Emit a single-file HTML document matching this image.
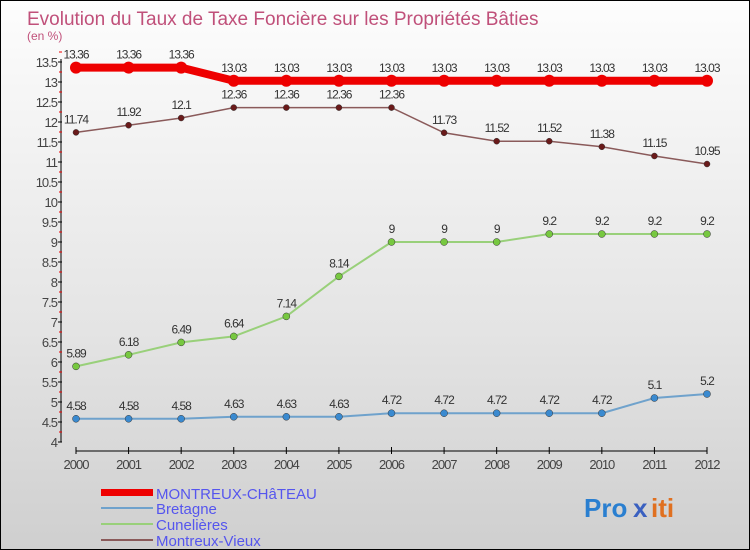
<!DOCTYPE html>
<html><head><meta charset="utf-8"><style>
body{margin:0}
#c{width:750px;height:550px;position:relative;background:linear-gradient(#fdfdfd,#e4e4e4 60%,#cfcfcf);font-family:"Liberation Sans",sans-serif;box-sizing:border-box;border:1px solid #000;overflow:hidden}
</style></head><body>
<div id="c">
<svg width="750" height="550" id="s" style="position:absolute;left:0;top:0">
<text x="26" y="24" font-size="19" fill="#c0507a">Evolution du Taux de Taxe Foncière sur les Propriétés Bâties</text>
<text x="26" y="39" font-size="12" fill="#c0507a">(en %)</text>
<g id="axes"></g><g id="series"></g>
<g font-size="15" fill="#5555ee">
<rect x="100" y="488" width="52" height="7" fill="#e00"/>
<text x="155" y="498">MONTREUX-CHâTEAU</text>
<line x1="100" x2="152" y1="507" y2="507" stroke="#6fa2cc" stroke-width="2"/>
<text x="155" y="513">Bretagne</text>
<line x1="100" x2="152" y1="523" y2="523" stroke="#99d07a" stroke-width="2"/>
<text x="155" y="529">Cunelières</text>
<line x1="100" x2="152" y1="539" y2="539" stroke="#8a5a5a" stroke-width="2"/>
<text x="155" y="545">Montreux-Vieux</text>
</g>
<g font-size="26" font-weight="bold">
<text x="583" y="516" fill="#2a7fd0">Pro</text><text x="632" y="516" fill="#3a60c0">x</text><text x="650" y="516" fill="#e07020">iti</text>
</g>
</svg>
</div>
<script>
const years=[2000,2001,2002,2003,2004,2005,2006,2007,2008,2009,2010,2011,2012];
const yTicks=[4,4.5,5,5.5,6,6.5,7,7.5,8,8.5,9,9.5,10,10.5,11,11.5,12,12.5,13,13.5];
const chateau=[13.36,13.36,13.36,13.03,13.03,13.03,13.03,13.03,13.03,13.03,13.03,13.03,13.03];
const bretagne=[4.58,4.58,4.58,4.63,4.63,4.63,4.72,4.72,4.72,4.72,4.72,5.1,5.2];
const cunelieres=[5.89,6.18,6.49,6.64,7.14,8.14,9,9,9,9.2,9.2,9.2,9.2];
const vieux=[11.74,11.92,12.1,12.36,12.36,12.36,12.36,11.73,11.52,11.52,11.38,11.15,10.95];
const NS="http://www.w3.org/2000/svg";
const x=i=>75+i*(706-75)/12;
const y=v=>441-(v-4)*40;
function mk(t,a,p){const e=document.createElementNS(NS,t);for(const k in a)e.setAttribute(k,a[k]);p.appendChild(e);return e;}
const ax=document.getElementById('axes'),se=document.getElementById('series');
const ya=mk('line',{x1:60,x2:60,y1:y(13.5)-3,y2:y(4),stroke:'#000'},ax);


yTicks.forEach(v=>{
 mk('line',{x1:57,x2:61,y1:y(v),y2:y(v),stroke:'#000'},ax);
 mk('line',{x1:58,x2:61,y1:y(v)-10,y2:y(v)-10,stroke:'#e00'},ax);
 const t=mk('text',{x:56,y:y(v)+5,'text-anchor':'end','font-size':13,fill:'#444','letter-spacing':'-1'},ax);t.textContent=v;
 
 
});
const xa=mk('line',{x1:x(0),x2:x(12),y1:450,y2:450,stroke:'#000'},ax);


years.forEach((yr,i)=>{
 mk('line',{x1:x(i),x2:x(i),y1:446,y2:453,stroke:'#000'},ax);
 const t=mk('text',{x:x(i),y:468,'text-anchor':'middle','font-size':13,fill:'#444','letter-spacing':'-1'},ax);t.textContent=yr;
 
 
});
function series(d,col,w,r,dot,name){
 const g=mk('g',{},se);
 
 
 const p=mk('polyline',{points:d.map((v,i)=>x(i)+','+y(v)).join(' '),fill:'none',stroke:col,'stroke-width':w},g);
 
 
 d.forEach((v,i)=>{
  const c=mk('circle',{cx:x(i),cy:y(v),r:r,fill:dot,stroke:'#333','stroke-width':w>5?0:0.5},g);
  
  
  const t=mk('text',{x:x(i),y:y(v)-9,'text-anchor':'middle','font-size':12,fill:'#333','letter-spacing':'-1'},g);
  t.textContent=String(v).replace(/^(\d+\.\d)0$/,'$1');
  
  
 });
}
series(bretagne,'#6fa2cc',2,3.5,'#3a8ad0','bretagne');
series(cunelieres,'#99d07a',2,3.5,'#77c840','cunelieres');
series(vieux,'#8a5a5a',1.5,3,'#6a1a1a','montreux-vieux');
series(chateau,'#e00',8,6,'#e00','montreux-chateau');
</script>
</body></html>
